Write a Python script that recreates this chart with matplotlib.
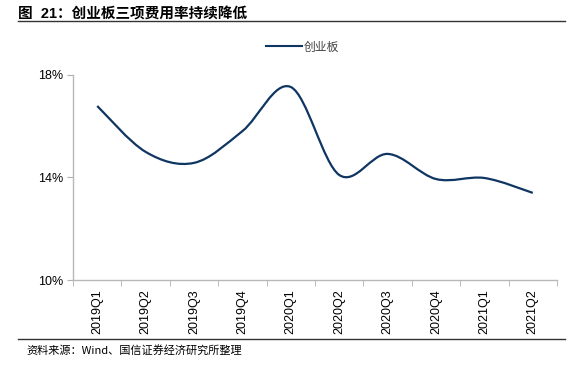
import numpy as np
import matplotlib.pyplot as plt
from matplotlib.path import Path
from matplotlib.patches import PathPatch
from matplotlib.lines import Line2D

plt.rcParams['font.family'] = ['Liberation Sans', 'Noto Sans CJK SC', 'DejaVu Sans']

# data
quarters = ['2019Q1', '2019Q2', '2019Q3', '2019Q4', '2020Q1',
            '2020Q2', '2020Q3', '2020Q4', '2021Q1', '2021Q2']
expense_rate = [16.79, 15.00, 14.57, 15.81, 17.53, 14.10, 14.92, 13.94, 13.98, 13.40]
y_ticks = [10, 14, 18]
y_tick_labels = ['10%', '14%', '18%']

title = '图  21：创业板三项费用率持续降低'
source = '资料来源：Wind、国信证券经济研究所整理'
series_name = '创业板'
line_color = '#0f3562'


def smooth_path(xs, ys, tension=0.5):
    # excel-like smoothed line: cardinal spline as cubic bezier segments
    pts = np.column_stack([xs, ys]).astype(float)
    n = len(pts)
    verts = [pts[0]]
    codes = [Path.MOVETO]
    for i in range(n - 1):
        p0 = pts[i - 1] if i > 0 else pts[i]
        p1 = pts[i]
        p2 = pts[i + 1]
        p3 = pts[i + 2] if i + 2 < n else pts[i + 1]
        c1 = p1 + (p2 - p0) * tension / 3
        c2 = p2 - (p3 - p1) * tension / 3
        verts += [c1, c2, p2]
        codes += [Path.CURVE4] * 3
    return Path(verts, codes)


fig = plt.figure(figsize=(5.8, 3.73), dpi=100)
ax = fig.add_axes([0.1259, 0.2493, 0.8344, 0.5497])

x = np.arange(len(quarters))
ax.add_patch(PathPatch(smooth_path(x, expense_rate, tension=0.5), facecolor='none',
                       edgecolor=line_color, lw=1.6, capstyle='butt'))
ax.set_xlim(-0.5, len(quarters) - 0.5)
ax.set_ylim(10, 18)

ax.set_yticks(y_ticks)
ax.set_yticklabels(y_tick_labels, fontsize=9)
ax.set_xticks(x)
ax.set_xticklabels(quarters, rotation=90, fontsize=9)
ax.set_xticks(np.arange(len(quarters) + 1) - 0.5, minor=True)
ax.tick_params(axis='x', which='major', length=0, pad=7)
ax.tick_params(axis='x', which='minor', length=4, color='#b0b0b0', direction='out')
ax.tick_params(axis='y', length=4, color='#b0b0b0', pad=3)

for s in ['top', 'right']:
    ax.spines[s].set_visible(False)
for s in ['left', 'bottom']:
    ax.spines[s].set_color('#b8b8b8')
    ax.spines[s].set_linewidth(1.0)

handle = Line2D([], [], color=line_color, lw=1.5)
leg = ax.legend([handle], [series_name], loc='upper center', bbox_to_anchor=(0.475, 1.22),
                frameon=False, handlelength=3.0, handletextpad=0.2,
                prop={'family': ['Noto Sans CJK SC'], 'size': 8.5})
for t in leg.get_texts():
    t.set_color('#404040')

fig.text(0.031, 0.98, title, fontsize=10.5, fontweight='bold', va='top', ha='left',
         family=['Liberation Sans', 'Noto Sans CJK SC'])
fig.add_artist(Line2D([0.031, 0.974], [0.944, 0.944], color='#333333', lw=1.0))
fig.add_artist(Line2D([0.031, 0.974], [0.09, 0.09], color='#333333', lw=1.0))
fig.text(0.046, 0.075, source, fontsize=8, va='top', ha='left',
         family=['Noto Sans CJK SC', 'Liberation Sans'])

fig.savefig('out.png', dpi=100)
